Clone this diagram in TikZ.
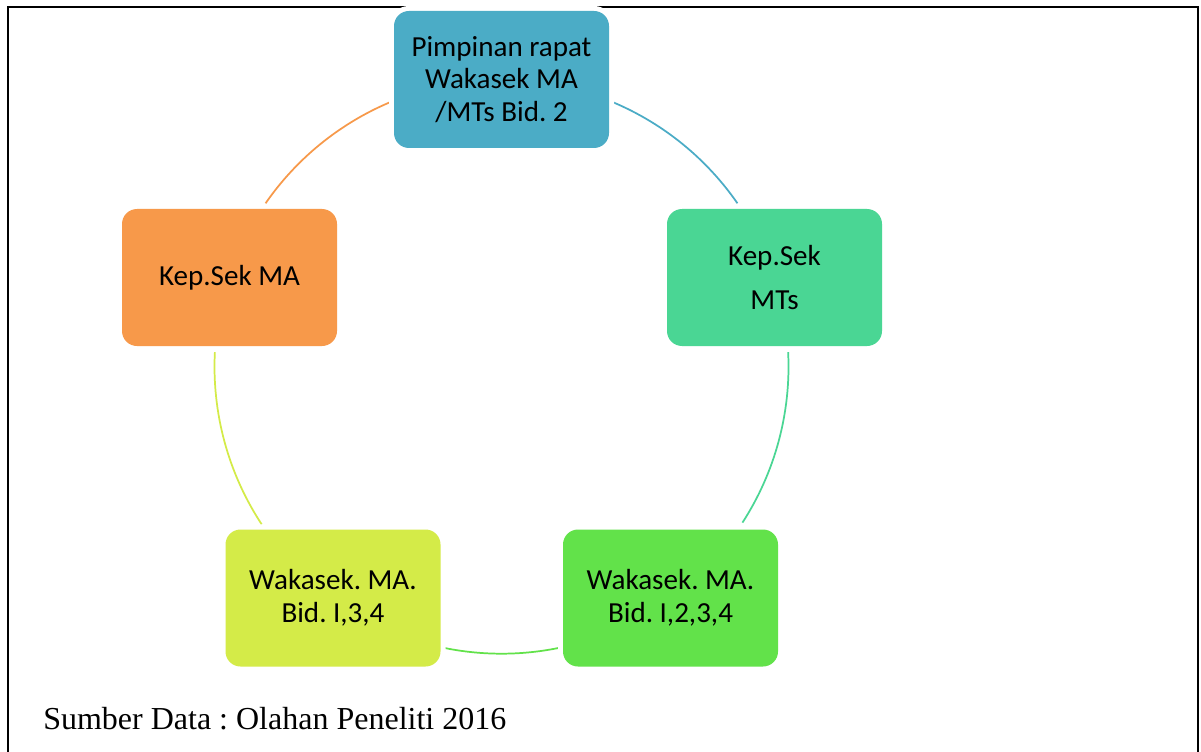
\documentclass[tikz,border=0pt]{standalone}
\usepackage{fontspec}
\setmainfont{Carlito}
\newfontfamily\captionserif{Liberation Serif}
\usetikzlibrary{calc}
\frenchspacing

\definecolor{cBlue}{HTML}{4BACC6}
\definecolor{cTeal}{HTML}{4AD694}
\definecolor{cGreen}{HTML}{62E24A}
\definecolor{cLime}{HTML}{D4EB48}
\definecolor{cOrange}{HTML}{F7994A}

\tikzset{
  stage/.style={rounded corners=11.25pt, minimum width=161.25pt, minimum height=102.75pt,
    inner sep=0pt, align=center, text=black,
    font=\fontsize{21.8pt}{24.4pt}\selectfont,
    preaction={draw=white, line width=7.5pt}},
  link/.style={line width=1.3pt}
}

\begin{document}
\begin{tikzpicture}[x=0.75pt, y=0.75pt]
  \useasboundingbox (0,0) rectangle (1201,751);
  \fill[white] (0,0) rectangle (1201,751);

  % open frame
  \draw[line width=1.5pt] (8,-5) -- (8,744) -- (1197.5,744) -- (1197.5,-5);

  % cycle centre and arc end points
  \coordinate (c) at (501.5,384.3);
  \def\R{215.25pt}
  \coordinate (a1) at ($(c)+(67:\R)$);
  \coordinate (a2) at ($(c)+(2.9:\R)$);
  \coordinate (a3) at ($(c)+(-78.4:\R)$);
  \coordinate (a4) at ($(c)+(213.3:\R)$);
  \coordinate (a5) at ($(c)+(145.3:\R)$);

  % connecting arcs
  \draw[link, cBlue]   (a1) arc[start angle=67,    end angle=34.7,  radius=\R];
  \draw[link, cTeal]   (a2) arc[start angle=2.9,   end angle=-32.9, radius=\R];
  \draw[link, cGreen]  (a3) arc[start angle=-78.4, end angle=-101.6, radius=\R];
  \draw[link, cLime]   (a4) arc[start angle=213.3, end angle=177.1, radius=\R];
  \draw[link, cOrange] (a5) arc[start angle=145.3, end angle=113,   radius=\R];

  % stages
  \node[stage, fill=cBlue]   (top) at (501.5,671.5) {Pimpinan rapat\\Wakasek MA\\/MTs Bid. 2};
  \node[stage, fill=cTeal]   (mts) at (774.5,473.5) {Kep.Sek\\[8.6pt]MTs};
  \node[stage, fill=cGreen]  (br)  at (670.5,153)   {Wakasek. MA.\\Bid. I,2,3,4};
  \node[stage, fill=cLime]   (bl)  at (333,153)     {Wakasek. MA.\\Bid. I,3,4};
  \node[stage, fill=cOrange] (ma)  at (229.5,473.5) {Kep.Sek MA};

  % source note
  \node[anchor=base west, inner sep=0pt, font=\captionserif\fontsize{24pt}{28pt}\selectfont]
    (src) at (43,22) {Sumber Data : Olahan Peneliti 2016};
\end{tikzpicture}
\end{document}
